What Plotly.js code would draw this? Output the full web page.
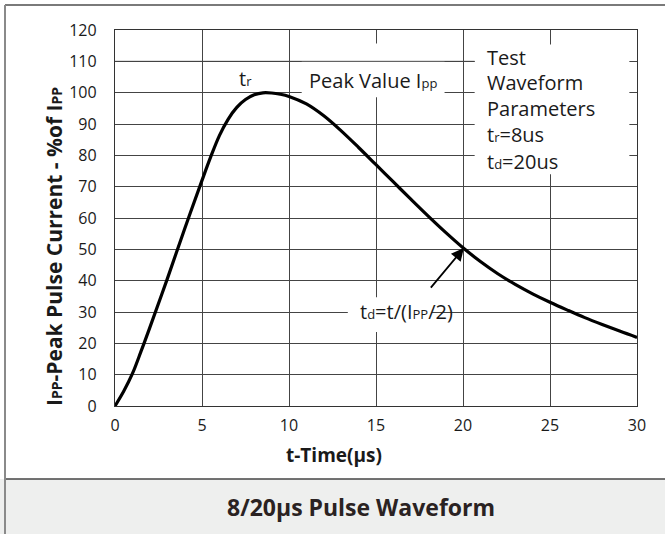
<!DOCTYPE html>
<html><head><meta charset="utf-8">
<script src="https://cdn.plot.ly/plotly-3.0.1.min.js"></script>
<style>html,body{margin:0;padding:0;background:#fff}#chart{width:665px;height:534px}</style>
</head><body><div id="chart"></div>
<script>
// Data
const timeUs     = [0, 0.5, 1, 1.5, 2, 3, 4, 5, 5.5, 6, 6.5, 7, 7.5, 8, 8.5, 9, 9.5, 10, 11, 12, 13, 14, 15, 16, 17, 18, 19, 20, 21, 22, 23, 24, 25, 26, 27, 28, 29, 30];
const currentPct = [0, 4.7, 10.3, 17.5, 25, 40.5, 56.5, 72, 79.5, 86.3, 91.5, 95.3, 97.8, 99.3, 99.95, 99.9, 99.5, 98.8, 96.4, 92.6, 87.8, 82.5, 77, 71.5, 66, 60.6, 55.4, 50.5, 46.1, 42.2, 38.8, 35.8, 33.1, 30.6, 28.2, 26, 23.9, 21.9];
const xTicks = [0, 5, 10, 15, 20, 25, 30];
const yTicks = [0, 10, 20, 30, 40, 50, 60, 70, 80, 90, 100, 110, 120];
const sm = (s, n) => '<span style="font-size:' + (n || 13) + 'px">' + s + '</span>';
const chartTitle = '8/20µs Pulse Waveform';
const xTitle = 't-Time(µs)';
const yTitle = 'I' + sm('PP', 14) + '-Peak Pulse Current - %of I' + sm('PP', 14);
const riseLabel = 't' + sm('r');
const peakLabel = 'Peak Value I' + sm('pp');
const paramLines = ['Test', 'Waveform', 'Parameters', 't' + sm('r') + '=8us', 't' + sm('d') + '=20us'];
const paramY = [111.1, 103.1, 94.8, 86.5, 77.9];
const tdLabel = 't' + sm('d') + '=t/(I' + sm('PP') + '/2)';

// layout geometry (pixels)
const L = 115, R = 28, T = 30, B = 128, Wd = 665, Ht = 534;
const W = Wd - L - R, H = Ht - T - B;
const px = p => (p - L) / W;
const py = p => (Ht - B - p) / H;

const FONT = '"Open Sans", "Noto Sans", sans-serif';
const TXT = '#1a1a1a';

const trace = {
  x: timeUs, y: currentPct, type: 'scatter', mode: 'lines',
  line: {color: '#000', width: 3.2, shape: 'spline', smoothing: 1},
  hoverinfo: 'skip', cliponaxis: false
};

const shapes = [
  {type: 'rect', xref: 'paper', yref: 'paper', x0: px(-20), x1: px(700), y0: py(479), y1: py(560),
   fillcolor: '#eeefee', line: {width: 0}, layer: 'below'},
  {type: 'line', xref: 'paper', yref: 'paper', x0: px(5), x1: px(700), y0: py(479), y1: py(479),
   line: {color: '#444', width: 1.5}},
  {type: 'line', xref: 'paper', yref: 'paper', x0: px(5), x1: px(700), y0: py(5), y1: py(5),
   line: {color: '#7a7a7a', width: 2}},
  {type: 'line', xref: 'paper', yref: 'paper', x0: px(5), x1: px(5), y0: py(5), y1: py(560),
   line: {color: '#8a8a8a', width: 2}},
  {type: 'rect', xref: 'x', yref: 'y', x0: 10.73, x1: 18.94, y0: 98.5, y1: 115.7,
   fillcolor: '#fff', line: {width: 0}, layer: 'between'},
  {type: 'rect', xref: 'x', yref: 'y', x0: 20.67, x1: 29.56, y0: 74.0, y1: 115.4,
   fillcolor: '#fff', line: {width: 0}, layer: 'between'},
  {type: 'rect', xref: 'x', yref: 'y', x0: 13.38, x1: 18.2, y0: 23.6, y1: 34.7,
   fillcolor: '#fff', line: {width: 0}, layer: 'between'},
  {type: 'line', xref: 'x', yref: 'y', x0: 0, x1: 20.67, y0: 110, y1: 110,
   line: {color: '#444', width: 1}, layer: 'between'}
];

const annotations = [
  {x: 7.52, y: 104.6, xref: 'x', yref: 'y', text: riseLabel, showarrow: false,
   font: {family: FONT, size: 20, color: TXT}},
  {x: 14.84, y: 103.9, xref: 'x', yref: 'y', text: peakLabel, showarrow: false,
   font: {family: FONT, size: 20, color: TXT}},
  {x: 16.73, y: 30.3, xref: 'x', yref: 'y', text: tdLabel, showarrow: false,
   font: {family: FONT, size: 20, color: TXT}},
  {x: 20.05, y: 50.4, ax: 18.08, ay: 37.3, xref: 'x', yref: 'y', axref: 'x', ayref: 'y',
   text: '', showarrow: true, arrowhead: 2, arrowsize: 1.4, arrowwidth: 1.8, arrowcolor: '#000'},
  {x: px(334), y: py(455), xref: 'paper', yref: 'paper', xanchor: 'center', yanchor: 'middle',
   text: '<b>' + xTitle + '</b>', showarrow: false, font: {family: FONT, size: 19, color: TXT}},
  {x: px(54), y: py(247), xref: 'paper', yref: 'paper', xanchor: 'center', yanchor: 'middle',
   text: '<b>' + yTitle + '</b>', showarrow: false, textangle: -90,
   font: {family: FONT, size: 21, color: TXT}},
  {x: px(361), y: py(507), xref: 'paper', yref: 'paper', xanchor: 'center', yanchor: 'middle',
   text: '<b>' + chartTitle + '</b>', showarrow: false, font: {family: FONT, size: 23, color: '#2a2222'}}
];
paramLines.forEach((t, i) => annotations.push({
  x: 21.26, y: paramY[i], xref: 'x', yref: 'y', xanchor: 'left', yanchor: 'middle',
  text: t, showarrow: false, font: {family: FONT, size: 20, color: TXT}
}));

const axisCommon = {
  showgrid: true, gridcolor: '#444', gridwidth: 1, zeroline: false,
  showline: true, linecolor: '#333', linewidth: 1.2, mirror: true, ticks: '',
  tickfont: {family: FONT, size: 16, color: TXT}, fixedrange: true
};

const layout = {
  width: Wd, height: Ht,
  margin: {l: L, r: R, t: T, b: B, pad: 0},
  paper_bgcolor: '#fff', plot_bgcolor: '#fff',
  showlegend: false,
  xaxis: Object.assign({}, axisCommon, {range: [0, 30], tickvals: xTicks, ticktext: xTicks.map(String), ticklabelstandoff: 5}),
  yaxis: Object.assign({}, axisCommon, {range: [0, 120], tickvals: yTicks, ticktext: yTicks.map(String), ticklabelstandoff: 14}),
  shapes: shapes,
  annotations: annotations
};

Plotly.newPlot('chart', [trace], layout, {staticPlot: true, displayModeBar: false});
</script>
</body></html>
